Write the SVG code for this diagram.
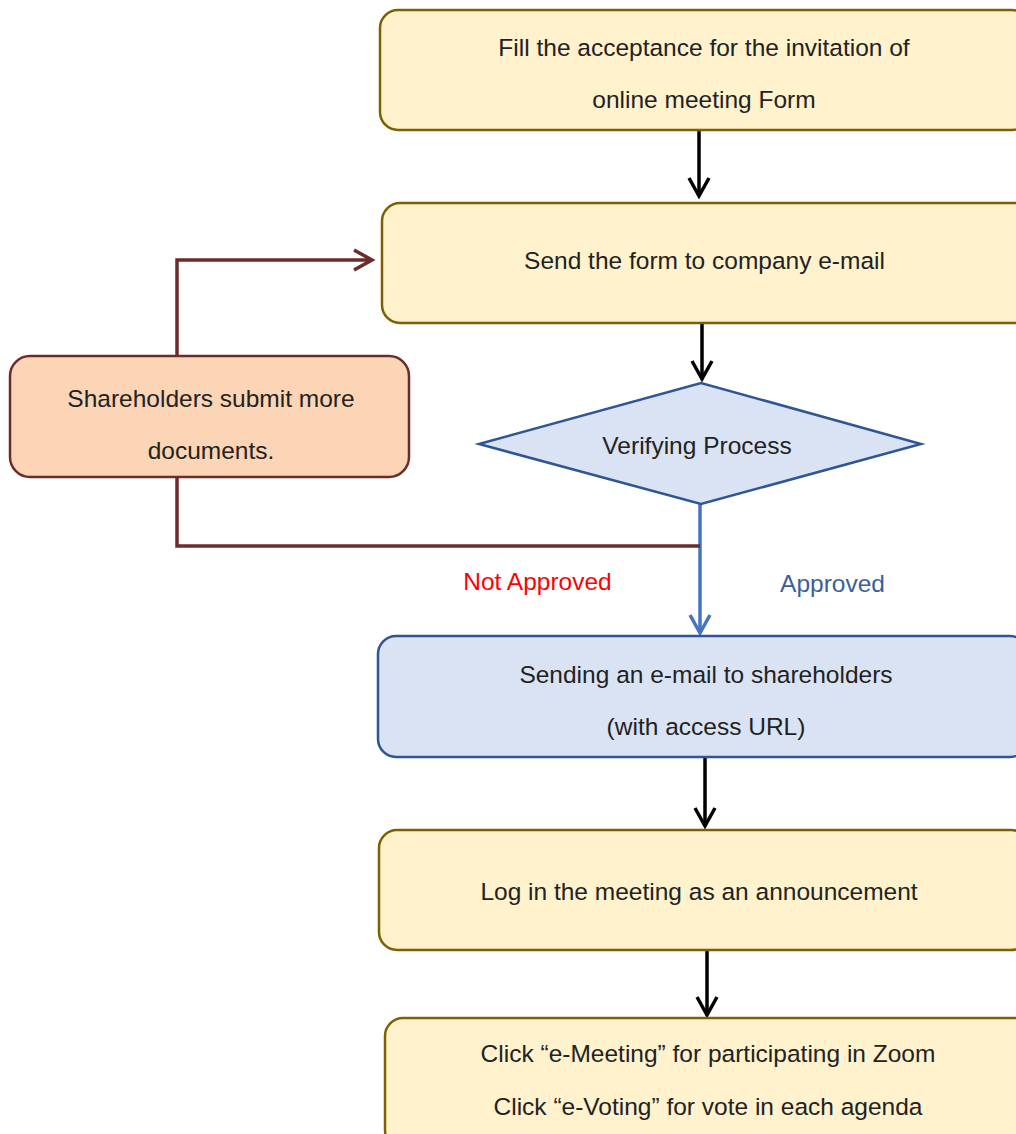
<svg xmlns="http://www.w3.org/2000/svg" width="1016" height="1134" viewBox="0 0 1016 1134">
<style>
.y{fill:#FFF2CC;stroke:#7F6000;stroke-width:2.5}
.o{fill:#FBD5B5;stroke:#6B2C2A;stroke-width:2.5}
.b{fill:#DAE3F3;stroke:#2F5597;stroke-width:2.5}
text{font-family:"Liberation Sans",Arial,sans-serif;font-size:24.5px;fill:#222;text-anchor:middle}
.k{stroke:#000;stroke-width:3.5;fill:none}
.r{stroke:#6B2C2A;stroke-width:3.5;fill:none}
.bl{stroke:#4472C4;stroke-width:3.5;fill:none}
</style>
<g id="connectors">
<line class="k" x1="699" y1="131" x2="699" y2="196"/>
<path class="k" d="M689,178 L699,196 L709,178"/>
<line class="k" x1="702" y1="324" x2="702" y2="379"/>
<path class="k" d="M692,361 L702,379 L712,361"/>
<line class="bl" x1="700" y1="504" x2="700" y2="633"/>
<path class="bl" d="M690,615 L700,633 L710,615"/>
<line class="k" x1="705" y1="758" x2="705" y2="826"/>
<path class="k" d="M695,808 L705,826 L715,808"/>
<line class="k" x1="707" y1="951" x2="707" y2="1015"/>
<path class="k" d="M697,997 L707,1015 L717,997"/>
<path class="r" d="M177,356 L177,260 L372,260"/>
<path class="r" d="M354,250 L372,260 L354,270"/>
<path class="r" d="M177,477 L177,546 L700,546"/>
</g>
<g id="n1"><rect class="y" x="380" y="10" width="650" height="120" rx="18"/>
<text x="704" y="56">Fill the acceptance for the invitation of</text>
<text x="704" y="108">online meeting Form</text></g>
<g id="n2"><rect class="y" x="382" y="203" width="650" height="120" rx="18"/>
<text x="704.5" y="269">Send the form to company e-mail</text></g>
<g id="n3"><rect class="o" x="10" y="356" width="399" height="121" rx="20"/>
<text x="211" y="407">Shareholders submit more</text>
<text x="211" y="459">documents.</text></g>
<g id="n4"><polygon class="b" points="479,444 701,383 921,444 701,504"/>
<text x="697" y="454">Verifying Process</text></g>
<g id="labels">
<text x="537.5" y="590" style="fill:#FF0000">Not Approved</text>
<text x="832.5" y="592" style="fill:#3A5F9A">Approved</text>
</g>
<g id="n5"><rect class="b" x="378" y="636" width="650" height="121" rx="18"/>
<text x="706" y="683">Sending an e-mail to shareholders</text>
<text x="706" y="735">(with access URL)</text></g>
<g id="n6"><rect class="y" x="379" y="830" width="650" height="120" rx="18"/>
<text x="699" y="900">Log in the meeting as an announcement</text></g>
<g id="n7"><rect class="y" x="385" y="1018" width="650" height="130" rx="18"/>
<text x="708" y="1062">Click “e-Meeting” for participating in Zoom</text>
<text x="708" y="1115">Click “e-Voting” for vote in each agenda</text></g>
</svg>
